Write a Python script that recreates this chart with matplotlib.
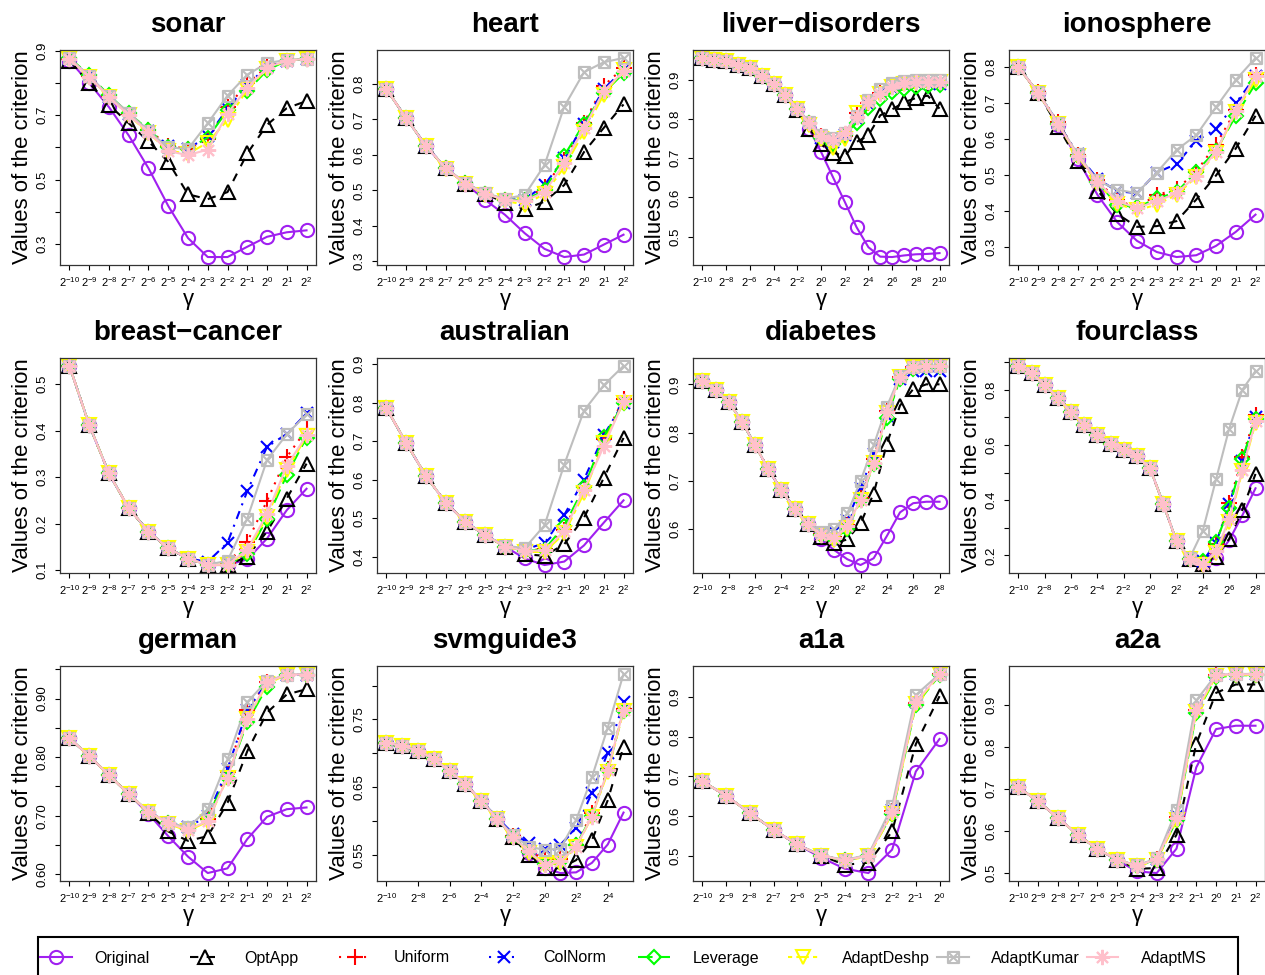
import numpy as np
import matplotlib
matplotlib.use("Agg")
import matplotlib.pyplot as plt
from matplotlib.path import Path
from matplotlib.lines import Line2D
from matplotlib.patches import Rectangle

plt.rcParams['font.family'] = ['Liberation Sans', 'DejaVu Sans']
plt.rcParams['mathtext.fontset'] = 'custom'
plt.rcParams['mathtext.rm'] = 'Liberation Sans'
plt.rcParams['mathtext.it'] = 'Liberation Sans:italic'
plt.rcParams['mathtext.bf'] = 'Liberation Sans:bold'

METHODS = ['Original', 'OptApp', 'Uniform', 'ColNorm', 'Leverage',
           'AdaptDeshp', 'AdaptKumar', 'AdaptMS']

# ---------------- data (log2 gamma exponents and criterion values) ----------------
sonar_gamma = [-10, -9, -8, -7, -6, -5, -4, -3, -2, -1, 0, 1, 2]
sonar = {
    'Original':   [0.870, 0.800, 0.725, 0.637, 0.535, 0.418, 0.318, 0.259, 0.259, 0.291, 0.322, 0.336, 0.342],
    'OptApp':     [0.870, 0.800, 0.732, 0.675, 0.619, 0.555, 0.454, 0.439, 0.461, 0.581, 0.670, 0.722, 0.744],
    'Uniform':    [0.875, 0.822, 0.760, 0.705, 0.655, 0.605, 0.595, 0.625, 0.725, 0.800, 0.850, 0.870, 0.875],
    'ColNorm':    [0.875, 0.822, 0.758, 0.704, 0.650, 0.605, 0.595, 0.635, 0.720, 0.795, 0.850, 0.870, 0.875],
    'Leverage':   [0.878, 0.825, 0.762, 0.706, 0.655, 0.600, 0.595, 0.630, 0.715, 0.775, 0.840, 0.870, 0.875],
    'AdaptDeshp': [0.875, 0.820, 0.756, 0.700, 0.645, 0.590, 0.580, 0.615, 0.685, 0.780, 0.845, 0.870, 0.875],
    'AdaptKumar': [0.877, 0.822, 0.760, 0.708, 0.650, 0.600, 0.595, 0.675, 0.761, 0.826, 0.862, 0.872, 0.875],
    'AdaptMS':    [0.875, 0.820, 0.756, 0.700, 0.648, 0.588, 0.576, 0.593, 0.705, 0.785, 0.848, 0.870, 0.875],
}

heart_gamma = [-10, -9, -8, -7, -6, -5, -4, -3, -2, -1, 0, 1, 2]
heart = {
    'Original':   [0.785, 0.703, 0.625, 0.562, 0.518, 0.473, 0.431, 0.379, 0.335, 0.312, 0.319, 0.347, 0.375],
    'OptApp':     [0.785, 0.703, 0.625, 0.562, 0.518, 0.490, 0.465, 0.447, 0.468, 0.515, 0.608, 0.676, 0.742],
    'Uniform':    [0.785, 0.703, 0.626, 0.562, 0.520, 0.491, 0.474, 0.472, 0.510, 0.585, 0.690, 0.795, 0.845],
    'ColNorm':    [0.785, 0.703, 0.626, 0.562, 0.520, 0.491, 0.474, 0.474, 0.515, 0.590, 0.688, 0.785, 0.840],
    'Leverage':   [0.785, 0.703, 0.626, 0.562, 0.520, 0.491, 0.474, 0.472, 0.500, 0.598, 0.688, 0.775, 0.830],
    'AdaptDeshp': [0.785, 0.703, 0.625, 0.561, 0.518, 0.488, 0.470, 0.460, 0.490, 0.565, 0.665, 0.770, 0.840],
    'AdaptKumar': [0.785, 0.703, 0.626, 0.563, 0.521, 0.492, 0.476, 0.487, 0.571, 0.736, 0.833, 0.861, 0.873],
    'AdaptMS':    [0.785, 0.703, 0.625, 0.562, 0.519, 0.490, 0.473, 0.470, 0.495, 0.576, 0.675, 0.780, 0.835],
}

liver_gamma = [-10, -9, -8, -7, -6, -5, -4, -3, -2, -1, 0, 1, 2, 3, 4, 5, 6, 7, 8, 9, 10]
liver = {
    'Original':   [0.955, 0.950, 0.946, 0.938, 0.929, 0.910, 0.889, 0.861, 0.825, 0.775, 0.716, 0.652, 0.589, 0.524, 0.473, 0.449, 0.448, 0.452, 0.455, 0.456, 0.458],
    'OptApp':     [0.955, 0.950, 0.946, 0.938, 0.929, 0.910, 0.889, 0.861, 0.822, 0.775, 0.735, 0.714, 0.705, 0.741, 0.758, 0.809, 0.824, 0.842, 0.853, 0.859, 0.826],
    'Uniform':    [0.955, 0.950, 0.946, 0.938, 0.929, 0.910, 0.889, 0.861, 0.826, 0.789, 0.755, 0.745, 0.755, 0.815, 0.840, 0.865, 0.882, 0.890, 0.893, 0.893, 0.893],
    'ColNorm':    [0.955, 0.950, 0.946, 0.938, 0.929, 0.910, 0.889, 0.861, 0.826, 0.789, 0.752, 0.742, 0.760, 0.800, 0.838, 0.862, 0.878, 0.885, 0.890, 0.890, 0.888],
    'Leverage':   [0.955, 0.950, 0.946, 0.938, 0.929, 0.910, 0.889, 0.861, 0.826, 0.789, 0.752, 0.735, 0.760, 0.790, 0.828, 0.850, 0.868, 0.875, 0.880, 0.883, 0.885],
    'AdaptDeshp': [0.955, 0.950, 0.946, 0.938, 0.929, 0.910, 0.889, 0.861, 0.826, 0.785, 0.748, 0.725, 0.748, 0.815, 0.840, 0.862, 0.880, 0.888, 0.892, 0.893, 0.893],
    'AdaptKumar': [0.955, 0.950, 0.946, 0.938, 0.929, 0.910, 0.889, 0.861, 0.826, 0.792, 0.760, 0.750, 0.765, 0.808, 0.848, 0.875, 0.890, 0.896, 0.900, 0.900, 0.900],
    'AdaptMS':    [0.955, 0.950, 0.946, 0.938, 0.929, 0.910, 0.889, 0.861, 0.826, 0.789, 0.755, 0.747, 0.764, 0.804, 0.842, 0.864, 0.881, 0.890, 0.895, 0.895, 0.895],
}

iono_gamma = [-10, -9, -8, -7, -6, -5, -4, -3, -2, -1, 0, 1, 2]
iono = {
    'Original':   [0.800, 0.728, 0.640, 0.545, 0.445, 0.369, 0.317, 0.286, 0.272, 0.277, 0.303, 0.342, 0.390],
    'OptApp':     [0.800, 0.728, 0.635, 0.540, 0.457, 0.392, 0.356, 0.358, 0.372, 0.432, 0.499, 0.574, 0.665],
    'Uniform':    [0.800, 0.730, 0.648, 0.556, 0.485, 0.430, 0.410, 0.445, 0.460, 0.510, 0.585, 0.680, 0.778],
    'ColNorm':    [0.800, 0.730, 0.645, 0.558, 0.490, 0.455, 0.450, 0.507, 0.531, 0.595, 0.629, 0.700, 0.775],
    'Leverage':   [0.800, 0.729, 0.643, 0.554, 0.480, 0.418, 0.410, 0.435, 0.452, 0.510, 0.568, 0.665, 0.755],
    'AdaptDeshp': [0.800, 0.728, 0.642, 0.552, 0.478, 0.420, 0.402, 0.418, 0.445, 0.495, 0.562, 0.675, 0.765],
    'AdaptKumar': [0.800, 0.730, 0.645, 0.558, 0.485, 0.459, 0.450, 0.507, 0.570, 0.611, 0.689, 0.765, 0.826],
    'AdaptMS':    [0.800, 0.729, 0.643, 0.554, 0.482, 0.427, 0.409, 0.427, 0.450, 0.498, 0.565, 0.678, 0.777],
}

breast_gamma = [-10, -9, -8, -7, -6, -5, -4, -3, -2, -1, 0, 1, 2]
breast = {
    'Original':   [0.539, 0.412, 0.308, 0.233, 0.183, 0.147, 0.125, 0.111, 0.111, 0.123, 0.168, 0.229, 0.275],
    'OptApp':     [0.539, 0.412, 0.308, 0.233, 0.183, 0.147, 0.125, 0.111, 0.111, 0.129, 0.183, 0.254, 0.329],
    'Uniform':    [0.539, 0.412, 0.308, 0.233, 0.183, 0.147, 0.125, 0.111, 0.115, 0.161, 0.249, 0.343, 0.403],
    'ColNorm':    [0.539, 0.412, 0.308, 0.233, 0.183, 0.147, 0.125, 0.118, 0.159, 0.270, 0.365, 0.393, 0.437],
    'Leverage':   [0.539, 0.412, 0.308, 0.233, 0.183, 0.147, 0.125, 0.111, 0.112, 0.135, 0.210, 0.305, 0.385],
    'AdaptDeshp': [0.539, 0.412, 0.308, 0.233, 0.183, 0.147, 0.125, 0.111, 0.112, 0.140, 0.215, 0.315, 0.388],
    'AdaptKumar': [0.539, 0.412, 0.308, 0.233, 0.183, 0.147, 0.125, 0.112, 0.120, 0.211, 0.337, 0.392, 0.435],
    'AdaptMS':    [0.539, 0.412, 0.308, 0.233, 0.183, 0.147, 0.125, 0.111, 0.112, 0.144, 0.221, 0.324, 0.390],
}

austr_gamma = [-10, -9, -8, -7, -6, -5, -4, -3, -2, -1, 0, 1, 2]
austr = {
    'Original':   [0.785, 0.695, 0.609, 0.540, 0.490, 0.455, 0.426, 0.395, 0.378, 0.387, 0.429, 0.488, 0.546],
    'OptApp':     [0.785, 0.695, 0.609, 0.540, 0.490, 0.455, 0.426, 0.406, 0.402, 0.432, 0.501, 0.604, 0.708],
    'Uniform':    [0.785, 0.695, 0.609, 0.540, 0.490, 0.455, 0.426, 0.415, 0.420, 0.470, 0.580, 0.705, 0.810],
    'ColNorm':    [0.785, 0.695, 0.609, 0.540, 0.490, 0.455, 0.427, 0.418, 0.435, 0.508, 0.600, 0.715, 0.800],
    'Leverage':   [0.785, 0.695, 0.609, 0.540, 0.490, 0.455, 0.426, 0.415, 0.418, 0.480, 0.580, 0.710, 0.798],
    'AdaptDeshp': [0.785, 0.695, 0.609, 0.540, 0.490, 0.455, 0.426, 0.412, 0.412, 0.460, 0.565, 0.695, 0.800],
    'AdaptKumar': [0.785, 0.695, 0.609, 0.540, 0.490, 0.456, 0.428, 0.422, 0.481, 0.639, 0.779, 0.845, 0.895],
    'AdaptMS':    [0.785, 0.695, 0.609, 0.540, 0.490, 0.455, 0.426, 0.415, 0.416, 0.466, 0.574, 0.686, 0.803],
}

diab_gamma = [-10, -9, -8, -7, -6, -5, -4, -3, -2, -1, 0, 1, 2, 3, 4, 5, 6, 7, 8]
diab = {
    'Original':   [0.907, 0.888, 0.863, 0.823, 0.774, 0.724, 0.681, 0.642, 0.610, 0.579, 0.557, 0.538, 0.526, 0.540, 0.586, 0.635, 0.654, 0.657, 0.657],
    'OptApp':     [0.907, 0.888, 0.863, 0.823, 0.774, 0.724, 0.681, 0.642, 0.610, 0.585, 0.571, 0.579, 0.612, 0.674, 0.777, 0.856, 0.890, 0.900, 0.900],
    'Uniform':    [0.907, 0.888, 0.863, 0.823, 0.774, 0.724, 0.681, 0.642, 0.610, 0.590, 0.585, 0.608, 0.665, 0.745, 0.845, 0.915, 0.935, 0.937, 0.938],
    'ColNorm':    [0.907, 0.888, 0.863, 0.823, 0.774, 0.724, 0.681, 0.642, 0.611, 0.592, 0.595, 0.620, 0.685, 0.755, 0.835, 0.912, 0.927, 0.927, 0.927],
    'Leverage':   [0.907, 0.888, 0.863, 0.823, 0.774, 0.724, 0.681, 0.642, 0.610, 0.588, 0.580, 0.600, 0.660, 0.735, 0.830, 0.912, 0.932, 0.935, 0.935],
    'AdaptDeshp': [0.907, 0.888, 0.863, 0.823, 0.774, 0.724, 0.681, 0.642, 0.610, 0.588, 0.578, 0.603, 0.660, 0.738, 0.840, 0.915, 0.935, 0.937, 0.938],
    'AdaptKumar': [0.907, 0.888, 0.863, 0.823, 0.774, 0.724, 0.681, 0.642, 0.611, 0.594, 0.600, 0.633, 0.700, 0.774, 0.854, 0.918, 0.936, 0.938, 0.938],
    'AdaptMS':    [0.907, 0.888, 0.863, 0.823, 0.774, 0.724, 0.681, 0.642, 0.610, 0.589, 0.582, 0.606, 0.661, 0.738, 0.842, 0.916, 0.936, 0.938, 0.938],
}

four_gamma = [-10, -9, -8, -7, -6, -5, -4, -3, -2, -1, 0, 1, 2, 3, 4, 5, 6, 7, 8]
four = {
    'Original':   [0.886, 0.859, 0.818, 0.770, 0.719, 0.673, 0.635, 0.605, 0.581, 0.560, 0.515, 0.386, 0.251, 0.188, 0.168, 0.192, 0.255, 0.345, 0.443],
    'OptApp':     [0.886, 0.859, 0.818, 0.770, 0.719, 0.673, 0.635, 0.605, 0.581, 0.560, 0.515, 0.386, 0.251, 0.188, 0.168, 0.195, 0.260, 0.365, 0.495],
    'Uniform':    [0.886, 0.859, 0.818, 0.770, 0.719, 0.673, 0.635, 0.605, 0.581, 0.560, 0.515, 0.386, 0.251, 0.188, 0.175, 0.240, 0.390, 0.555, 0.710],
    'ColNorm':    [0.886, 0.859, 0.818, 0.770, 0.719, 0.673, 0.635, 0.605, 0.581, 0.560, 0.515, 0.386, 0.251, 0.188, 0.180, 0.245, 0.385, 0.540, 0.700],
    'Leverage':   [0.886, 0.859, 0.818, 0.770, 0.719, 0.673, 0.635, 0.605, 0.581, 0.560, 0.515, 0.386, 0.251, 0.188, 0.180, 0.250, 0.370, 0.549, 0.695],
    'AdaptDeshp': [0.886, 0.859, 0.818, 0.770, 0.719, 0.673, 0.635, 0.605, 0.581, 0.560, 0.515, 0.386, 0.251, 0.188, 0.165, 0.210, 0.320, 0.505, 0.680],
    'AdaptKumar': [0.886, 0.859, 0.818, 0.770, 0.719, 0.673, 0.635, 0.605, 0.581, 0.560, 0.515, 0.386, 0.251, 0.190, 0.290, 0.475, 0.659, 0.800, 0.868],
    'AdaptMS':    [0.886, 0.859, 0.818, 0.770, 0.719, 0.673, 0.635, 0.605, 0.581, 0.560, 0.515, 0.386, 0.251, 0.188, 0.168, 0.215, 0.330, 0.510, 0.685],
}

german_gamma = [-10, -9, -8, -7, -6, -5, -4, -3, -2, -1, 0, 1, 2]
german = {
    'Original':   [0.832, 0.802, 0.769, 0.737, 0.703, 0.665, 0.630, 0.602, 0.610, 0.660, 0.698, 0.711, 0.714],
    'OptApp':     [0.832, 0.802, 0.769, 0.737, 0.705, 0.673, 0.657, 0.665, 0.722, 0.810, 0.876, 0.907, 0.916],
    'Uniform':    [0.832, 0.802, 0.769, 0.737, 0.707, 0.687, 0.677, 0.695, 0.775, 0.880, 0.928, 0.941, 0.941],
    'ColNorm':    [0.832, 0.802, 0.769, 0.737, 0.707, 0.688, 0.680, 0.700, 0.780, 0.880, 0.928, 0.941, 0.941],
    'Leverage':   [0.832, 0.802, 0.769, 0.737, 0.707, 0.687, 0.677, 0.700, 0.765, 0.860, 0.920, 0.940, 0.941],
    'AdaptDeshp': [0.832, 0.802, 0.769, 0.737, 0.706, 0.686, 0.674, 0.690, 0.765, 0.865, 0.925, 0.941, 0.941],
    'AdaptKumar': [0.832, 0.802, 0.769, 0.737, 0.707, 0.688, 0.680, 0.711, 0.796, 0.894, 0.930, 0.941, 0.942],
    'AdaptMS':    [0.832, 0.802, 0.769, 0.737, 0.707, 0.687, 0.676, 0.691, 0.765, 0.865, 0.928, 0.941, 0.941],
}

svm_gamma = [-10, -9, -8, -7, -6, -5, -4, -3, -2, -1, 0, 1, 2, 3, 4, 5]
svm = {
    'Original':   [0.716, 0.711, 0.704, 0.692, 0.674, 0.655, 0.630, 0.604, 0.577, 0.553, 0.531, 0.524, 0.525, 0.539, 0.566, 0.613],
    'OptApp':     [0.716, 0.711, 0.704, 0.692, 0.674, 0.655, 0.630, 0.604, 0.577, 0.550, 0.532, 0.531, 0.543, 0.572, 0.631, 0.710],
    'Uniform':    [0.716, 0.711, 0.704, 0.692, 0.674, 0.655, 0.630, 0.604, 0.578, 0.556, 0.545, 0.545, 0.565, 0.612, 0.677, 0.765],
    'ColNorm':    [0.716, 0.711, 0.704, 0.692, 0.674, 0.655, 0.630, 0.606, 0.582, 0.568, 0.560, 0.565, 0.590, 0.642, 0.701, 0.775],
    'Leverage':   [0.716, 0.711, 0.704, 0.692, 0.674, 0.655, 0.630, 0.604, 0.577, 0.555, 0.538, 0.540, 0.565, 0.608, 0.675, 0.763],
    'AdaptDeshp': [0.716, 0.711, 0.704, 0.692, 0.674, 0.655, 0.630, 0.604, 0.577, 0.554, 0.536, 0.539, 0.562, 0.607, 0.672, 0.763],
    'AdaptKumar': [0.716, 0.711, 0.704, 0.692, 0.674, 0.655, 0.630, 0.605, 0.580, 0.563, 0.558, 0.560, 0.602, 0.665, 0.738, 0.817],
    'AdaptMS':    [0.716, 0.711, 0.704, 0.692, 0.674, 0.655, 0.630, 0.604, 0.577, 0.556, 0.536, 0.541, 0.563, 0.607, 0.675, 0.764],
}

a1a_gamma = [-10, -9, -8, -7, -6, -5, -4, -3, -2, -1, 0]
a1a = {
    'Original':   [0.687, 0.651, 0.607, 0.565, 0.528, 0.495, 0.467, 0.456, 0.515, 0.712, 0.794],
    'OptApp':     [0.687, 0.651, 0.607, 0.565, 0.528, 0.500, 0.477, 0.482, 0.561, 0.781, 0.902],
    'Uniform':    [0.687, 0.651, 0.607, 0.565, 0.528, 0.500, 0.488, 0.500, 0.612, 0.885, 0.957],
    'ColNorm':    [0.687, 0.651, 0.607, 0.565, 0.528, 0.500, 0.488, 0.500, 0.615, 0.888, 0.957],
    'Leverage':   [0.687, 0.651, 0.607, 0.565, 0.528, 0.500, 0.488, 0.500, 0.605, 0.880, 0.955],
    'AdaptDeshp': [0.687, 0.651, 0.607, 0.565, 0.528, 0.500, 0.487, 0.498, 0.605, 0.882, 0.957],
    'AdaptKumar': [0.687, 0.651, 0.607, 0.565, 0.528, 0.501, 0.489, 0.502, 0.625, 0.905, 0.958],
    'AdaptMS':    [0.687, 0.651, 0.607, 0.565, 0.528, 0.500, 0.488, 0.500, 0.609, 0.887, 0.957],
}

a2a_gamma = [-10, -9, -8, -7, -6, -5, -4, -3, -2, -1, 0, 1, 2]
a2a = {
    'Original':   [0.704, 0.670, 0.631, 0.591, 0.557, 0.530, 0.504, 0.500, 0.558, 0.751, 0.842, 0.850, 0.850],
    'OptApp':     [0.704, 0.670, 0.631, 0.591, 0.557, 0.532, 0.510, 0.512, 0.591, 0.807, 0.928, 0.948, 0.948],
    'Uniform':    [0.704, 0.670, 0.631, 0.591, 0.557, 0.532, 0.517, 0.533, 0.632, 0.888, 0.970, 0.972, 0.972],
    'ColNorm':    [0.704, 0.670, 0.631, 0.591, 0.557, 0.532, 0.517, 0.533, 0.635, 0.890, 0.970, 0.972, 0.972],
    'Leverage':   [0.704, 0.670, 0.631, 0.591, 0.557, 0.532, 0.517, 0.532, 0.625, 0.880, 0.965, 0.970, 0.970],
    'AdaptDeshp': [0.704, 0.670, 0.631, 0.591, 0.557, 0.532, 0.516, 0.530, 0.625, 0.882, 0.968, 0.971, 0.971],
    'AdaptKumar': [0.704, 0.670, 0.631, 0.591, 0.557, 0.532, 0.518, 0.535, 0.650, 0.910, 0.971, 0.973, 0.973],
    'AdaptMS':    [0.704, 0.670, 0.631, 0.591, 0.557, 0.532, 0.517, 0.533, 0.631, 0.887, 0.971, 0.972, 0.972],
}

# panel: title, gamma, values, x tick step, y tick step, y label step, y label base, decimals
PANELS = [
    ('sonar', sonar_gamma, sonar, 1, 0.1, 0.2, 0.3, 1),
    ('heart', heart_gamma, heart, 1, 0.1, 0.1, 0.3, 1),
    ('liver\u2212disorders', liver_gamma, liver, 2, 0.1, 0.1, 0.5, 1),
    ('ionosphere', iono_gamma, iono, 1, 0.1, 0.1, 0.3, 1),
    ('breast\u2212cancer', breast_gamma, breast, 1, 0.1, 0.1, 0.1, 1),
    ('australian', austr_gamma, austr, 1, 0.1, 0.1, 0.4, 1),
    ('diabetes', diab_gamma, diab, 2, 0.1, 0.1, 0.6, 1),
    ('fourclass', four_gamma, four, 2, 0.1, 0.2, 0.2, 1),
    ('german', german_gamma, german, 1, 0.05, 0.1, 0.6, 2),
    ('svmguide3', svm_gamma, svm, 2, 0.05, 0.1, 0.55, 2),
    ('a1a', a1a_gamma, a1a, 1, 0.1, 0.1, 0.5, 1),
    ('a2a', a2a_gamma, a2a, 1, 0.1, 0.1, 0.5, 1),
]

# ---------------- styles ----------------
kumar_marker = Path(
    [(-1, -1), (1, -1), (1, 1), (-1, 1), (-1, -1), (-1, -1), (1, 1), (-1, 1), (1, -1)],
    [Path.MOVETO, Path.LINETO, Path.LINETO, Path.LINETO, Path.CLOSEPOLY,
     Path.MOVETO, Path.LINETO, Path.MOVETO, Path.LINETO])

STYLE = {
    'Original':   dict(color='#A020F0', ls='-', marker='o', ms=9.5),
    'OptApp':     dict(color='black', ls=(0, (4, 4)), marker='^', ms=9.5),
    'Uniform':    dict(color='red', ls=(0, (1, 3)), marker='+', ms=11),
    'ColNorm':    dict(color='blue', ls=(0, (1, 3, 4, 3)), marker='x', ms=8),
    'Leverage':   dict(color='#00FF00', ls=(0, (7, 3)), marker='D', ms=7.5),
    'AdaptDeshp': dict(color='#FFFF00', ls=(0, (2, 2, 6, 2)), marker='v', ms=9.5),
    'AdaptKumar': dict(color='#BEBEBE', ls='-', marker=kumar_marker, ms=8),
    'AdaptMS':    dict(color='#FFC0CB', ls='-', marker=(8, 2, 0), ms=11),
}


def style_kwargs(m):
    s = STYLE[m]
    return dict(color=s['color'], linestyle=s['ls'], linewidth=1.5,
                marker=s['marker'], markersize=s['ms'], markerfacecolor='none',
                markeredgecolor=s['color'], markeredgewidth=1.5)


W, H = 1265, 975
fig = plt.figure(figsize=(W / 100, H / 100), dpi=100)

col_left = [60, 377, 693, 1009]
row_top = [50, 358, 666]
ax_w, ax_h = 256, 215

for idx, (title, gamma, vals, xstep, ystep, lstep, lbase, dec) in enumerate(PANELS):
    r, c = divmod(idx, 4)
    ax = fig.add_axes([col_left[c] / W, 1 - (row_top[r] + ax_h) / H, ax_w / W, ax_h / H])
    for m in METHODS:
        ax.plot(gamma, vals[m], **style_kwargs(m))
    ax.margins(x=0.04, y=0.04)
    ax.autoscale_view()
    ylo, yhi = ax.get_ylim()
    xlo, xhi = ax.get_xlim()
    # x ticks
    xt = [g for g in gamma if (g - gamma[0]) % xstep == 0]
    ax.set_xticks(xt)
    ax.set_xticklabels(['$2^{%d}$' % g for g in xt], fontsize=8)
    # y ticks (R style: some ticks unlabeled)
    k0 = int(np.ceil(ylo / ystep - 1e-9))
    k1 = int(np.floor(yhi / ystep + 1e-9))
    yt = [k * ystep for k in range(k0, k1 + 1)]
    labels = []
    for v in yt:
        q = (v - lbase) / lstep
        if abs(q - round(q)) < 1e-6:
            labels.append(('%.' + str(dec) + 'f') % v)
        else:
            labels.append('')
    ax.set_yticks(yt)
    ax.set_yticklabels(labels, fontsize=9.5, rotation=90, va='center')
    ax.set_ylim(ylo, yhi)
    ax.set_xlim(xlo, xhi)
    ax.tick_params(axis='both', direction='out', length=3.6, width=0.8, color='black')
    ax.tick_params(axis='y', pad=5)
    ax.tick_params(axis='x', pad=4)
    for sp in ax.spines.values():
        sp.set_linewidth(0.9)
        sp.set_color('#333333')
    ax.set_title(title, fontsize=20, fontweight='bold', pad=13)
    ax.set_ylabel('Values of the criterion', fontsize=16, labelpad=2)
    ax.set_xlabel('\u03b3', fontsize=16, labelpad=0)

# ---------------- legend ----------------
handles = [Line2D([], [], **style_kwargs(m)) for m in METHODS]
fig.patches.append(Rectangle((38 / W, -0.02), 1200 / W, (H - 937) / H + 0.02,
                             transform=fig.transFigure, fill=False,
                             edgecolor='black', linewidth=1.5, clip_on=False))
for i, (h, m) in enumerate(zip(handles, METHODS)):
    x0 = (40 + 149.5 * i) / W
    fig.legend([h], [m], loc='center left', bbox_to_anchor=(x0, 1 - 958 / H),
               frameon=False, fontsize=11.5, handlelength=2.0, handletextpad=1.4,
               borderpad=0, borderaxespad=0)

fig.savefig('out.png', dpi=100)
